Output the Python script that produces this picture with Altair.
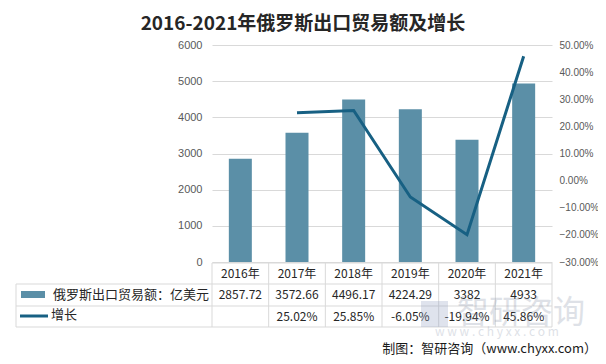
import altair as alt
import pandas as pd

years = ["2016年", "2017年", "2018年", "2019年", "2020年", "2021年"]
exports = [2857.72, 3572.66, 4496.17, 4224.29, 3382, 4933]
export_labels = ["2857.72", "3572.66", "4496.17", "4224.29", "3382", "4933"]
growth = [None, 0.2502, 0.2585, -0.0605, -0.1994, 0.4586]
growth_labels = ["", "25.02%", "25.85%", "-6.05%", "-19.94%", "45.86%"]

TITLE = "2016-2021年俄罗斯出口贸易额及增长"
BAR_NAME = "俄罗斯出口贸易额：亿美元"
LINE_NAME = "增长"
SOURCE = "制图：智研咨询（www.chyxx.com）"

BAR_COLOR = "#5B8FA7"
LINE_COLOR = "#176083"
GRID = "#D9D9D9"
FONT = "Noto Sans CJK SC"
NUMFONT = "Liberation Sans"

W, H = 340, 217
df = pd.DataFrame({"year": years, "exports": exports, "growth": growth,
                   "elab": export_labels, "glab": growth_labels})

xscale = alt.Scale(domain=years, paddingInner=0.6, paddingOuter=0.3)
X = alt.X("year:N", scale=xscale, axis=None, sort=years)

bars = alt.Chart(df).mark_bar(color=BAR_COLOR, size=23).encode(
    x=X,
    y=alt.Y("exports:Q", scale=alt.Scale(domain=[0, 6000]),
            axis=alt.Axis(values=[0, 1000, 2000, 3000, 4000, 5000, 6000], title=None,
                          format="d", orient="left", domain=False, ticks=False,
                          labelPadding=10, gridColor=GRID, labelColor="#595959",
                          labelFontSize=11, labelFont=NUMFONT)),
)

line = alt.Chart(df[df["growth"].notna()]).mark_line(color=LINE_COLOR, strokeWidth=3).encode(
    x=X,
    y=alt.Y("growth:Q", scale=alt.Scale(domain=[-0.3, 0.5]),
            axis=alt.Axis(values=[-0.3, -0.2, -0.1, 0, 0.1, 0.2, 0.3, 0.4, 0.5], format=".2%",
                          title=None, orient="right", domain=False, ticks=False, grid=False,
                          labelPadding=7, labelColor="#595959", labelFontSize=10,
                          labelFont=NUMFONT)),
)

# table rows (y in plot pixels)
ROW0, ROW1, ROW2, ROW3 = 218, 239, 261, 282
LEFT = -196

hdr = alt.Chart(df).mark_text(fontSize=12, font=FONT, color="#262626").encode(
    x=X, y=alt.value((ROW0 + ROW1) / 2), text="year:N")
row1 = alt.Chart(df).mark_text(fontSize=12, font=FONT, color="#262626").encode(
    x=X, y=alt.value((ROW1 + ROW2) / 2), text="elab:N")
row2 = alt.Chart(df).mark_text(fontSize=12, font=FONT, color="#262626").encode(
    x=X, y=alt.value((ROW2 + ROW3) / 2), text="glab:N")

one = pd.DataFrame({"a": [0]})
rules = []
step = W / 6
for i in range(7):
    rules.append(alt.Chart(one).mark_rule(color=GRID, strokeWidth=1).encode(
        x=alt.value(i * step), y=alt.value(ROW0), y2=alt.value(ROW3)))
rules.append(alt.Chart(one).mark_rule(color=GRID, strokeWidth=1).encode(
    x=alt.value(LEFT), y=alt.value(ROW1), y2=alt.value(ROW3)))
rules.append(alt.Chart(one).mark_rule(color=GRID, strokeWidth=1).encode(
    x=alt.value(0), x2=alt.value(W), y=alt.value(ROW0)))
for yy in [ROW1, ROW2, ROW3]:
    rules.append(alt.Chart(one).mark_rule(color=GRID, strokeWidth=1).encode(
        x=alt.value(LEFT), x2=alt.value(W), y=alt.value(yy)))

# legend entries in table
leg_bar = alt.Chart(one).mark_rect(color=BAR_COLOR).encode(
    x=alt.value(LEFT + 5), x2=alt.value(LEFT + 29),
    y=alt.value(246), y2=alt.value(253))
leg_bar_t = alt.Chart(pd.DataFrame({"t": [BAR_NAME]})).mark_text(
    fontSize=13, font=FONT, color="#262626", align="left").encode(
    x=alt.value(LEFT + 37), y=alt.value((ROW1 + ROW2) / 2), text="t:N")
leg_line = alt.Chart(one).mark_rule(color=LINE_COLOR, strokeWidth=3).encode(
    x=alt.value(LEFT + 4), x2=alt.value(LEFT + 32), y=alt.value(271))
leg_line_t = alt.Chart(pd.DataFrame({"t": [LINE_NAME]})).mark_text(
    fontSize=13, font=FONT, color="#262626", align="left").encode(
    x=alt.value(LEFT + 35), y=alt.value(270), text="t:N")

title = alt.Chart(pd.DataFrame({"t": [TITLE]})).mark_text(
    fontSize=19, font=FONT, fontWeight="bold", color="#262626").encode(
    x=alt.value(91), y=alt.value(-21), text="t:N")

wm1 = alt.Chart(pd.DataFrame({"t": ["智研咨询"]})).mark_text(
    fontSize=32, font=FONT, color="#8C96AA", opacity=0.28, align="left").encode(
    x=alt.value(245), y=alt.value(268), text="t:N")
wm_logo = alt.Chart(one).mark_rect(color="#8C9CC0", opacity=0.28).encode(
    x=alt.value(209), x2=alt.value(236), y=alt.value(256), y2=alt.value(282))
wm2 = alt.Chart(pd.DataFrame({"t": ["w w w . c h y x x . c o m"]})).mark_text(
    fontSize=12, font=FONT, color="#8C96AA", opacity=0.28, align="left").encode(
    x=alt.value(223), y=alt.value(287), text="t:N")
source = alt.Chart(pd.DataFrame({"t": [SOURCE]})).mark_text(
    fontSize=13, font=FONT, color="#1a1a1a", align="right").encode(
    x=alt.value(385), y=alt.value(304), text="t:N")

chart = alt.layer(bars, line, hdr, row1, row2, *rules, leg_bar, leg_bar_t, leg_line,
                  leg_line_t, title, wm_logo, wm1, wm2, source).resolve_scale(
    y="independent").properties(
    width=W, height=H, autosize=alt.AutoSizeParams(type="none"),
    padding={"left": 204, "top": 37, "right": 46, "bottom": 94},
    background="white").configure_view(stroke=None)

chart.save("out.html", embed_options={"renderer": "svg", "actions": False})
